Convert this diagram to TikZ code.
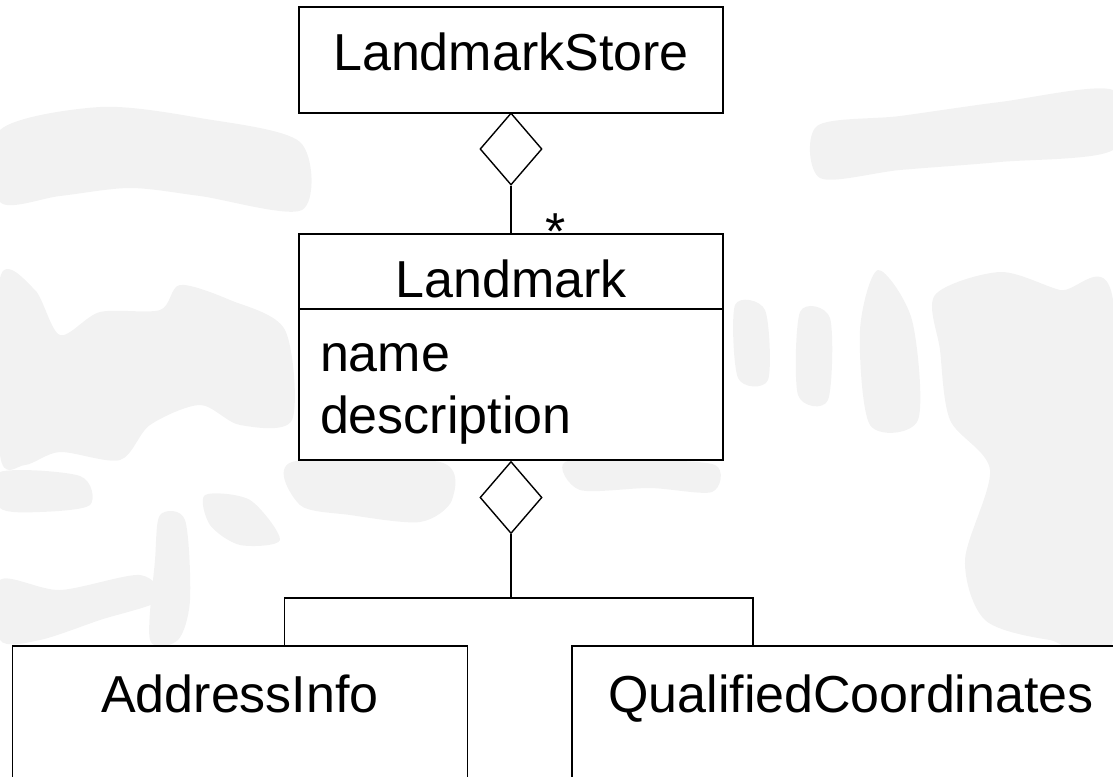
\documentclass[tikz,border=0pt]{standalone}
\usepackage{fontspec}
\setmainfont{Liberation Sans}
\usetikzlibrary{shapes,arrows,positioning,calc}

\begin{document}
\begin{tikzpicture}[x=0.5pt, y=-0.5pt]
  \tikzstyle{cls} = [rectangle, draw, fill=white, line width=0.7pt, outer sep=0pt, inner xsep=0pt, font=\fontsize{26}{31}\selectfont]
  \tikzstyle{agg} = [diamond, draw, fill=white, line width=0.7pt, inner sep=0pt, minimum width=31pt, minimum height=36pt]
  \tikzstyle{link} = [line width=0.7pt]
  \tikzstyle{mult} = [anchor=base, inner sep=0pt, font=\fontsize{26}{31}\selectfont]
  \tikzstyle{smudge} = [fill=black!5]
  \useasboundingbox (0,0) rectangle (1113,776);
  \clip (0,0) rectangle (1113,776);

  % faint backdrop
  \fill[smudge] plot[smooth cycle] coordinates {(0,130) (100,107) (200,118) (300,142) (302,210) (200,196) (130,188) (60,196) (0,202)};
  \fill[smudge] plot[smooth cycle] coordinates {(817,126) (900,116) (1000,102) (1113,90) (1113,150) (1000,162) (900,170) (820,178)};
  \fill[smudge] plot[smooth cycle] coordinates {(0,278) (35,290) (60,335) (100,312) (160,310) (180,285) (230,300) (285,330) (292,420) (240,425) (200,405) (150,425) (120,460) (60,452) (25,465) (0,455)};
  \fill[smudge] plot[smooth cycle] coordinates {(0,472) (80,476) (90,505) (40,512) (0,508)};
  \fill[smudge] plot[smooth cycle] coordinates {(160,515) (185,520) (190,600) (178,640) (150,640) (155,560)};
  \fill[smudge] plot[smooth cycle] coordinates {(205,495) (250,500) (280,540) (240,545) (210,525)};
  \fill[smudge] plot[smooth cycle] coordinates {(0,580) (60,590) (140,575) (160,600) (100,620) (40,640) (0,640)};
  \fill[smudge] plot[smooth cycle] coordinates {(735,305) (765,310) (768,380) (738,378)};
  \fill[smudge] plot[smooth cycle] coordinates {(800,312) (830,318) (828,400) (798,395)};
  \fill[smudge] plot[smooth cycle] coordinates {(878,270) (912,320) (918,420) (870,425) (860,330)};
  \fill[smudge] plot[smooth cycle] coordinates {(935,295) (1000,272) (1060,290) (1113,300) (1113,640) (1050,640) (985,620) (965,560) (990,470) (950,420) (940,350)};
  \fill[smudge] plot[smooth cycle] coordinates {(565,462) (640,460) (715,465) (712,492) (650,488) (580,490)};
  \fill[smudge] plot[smooth cycle] coordinates {(292,462) (440,462) (452,500) (420,522) (350,515) (300,505)};

  % classes
  \node [cls, anchor=north, minimum width=212pt, inner ysep=12.5pt, text height=19pt, text depth=9pt] (store) at (511,7) {LandmarkStore};
  \node [cls, anchor=north, minimum width=212pt, inner ysep=6pt, text height=25.5pt, text depth=0pt] (lmhead) at (511,234) {Landmark};
  \node [cls, below=0pt of lmhead, align=left, text width=191pt, inner xsep=10.5pt, inner ysep=6pt, text height=25pt, text depth=38.5pt] (lmbody) {name\\description};
  \node [cls, anchor=north, minimum width=227.5pt, inner ysep=14pt, text height=19pt, text depth=60pt] (addr) at (240,646) {AddressInfo};
  \node [cls, anchor=north, minimum width=279pt, inner ysep=14pt, text height=19pt, text depth=60pt] (qual) at (851,646) {QualifiedCoordinates};

  % aggregation diamonds
  \node [agg] (agg1) at (511,149) {};
  \node [agg] (agg2) at (511,497.5) {};
  \coordinate (fork) at (511,598);

  \draw [link] (agg1.south) -- node[mult, pos=1, xshift=22.5pt, yshift=-7.75pt] {*} (lmhead.north);
  \draw [link] (agg2.south) -- (fork);
  \draw [link] (fork) -| ([xshift=22.25pt]addr.north);
  \draw [link] (fork) -| ([xshift=-49pt]qual.north);
\end{tikzpicture}
\end{document}
